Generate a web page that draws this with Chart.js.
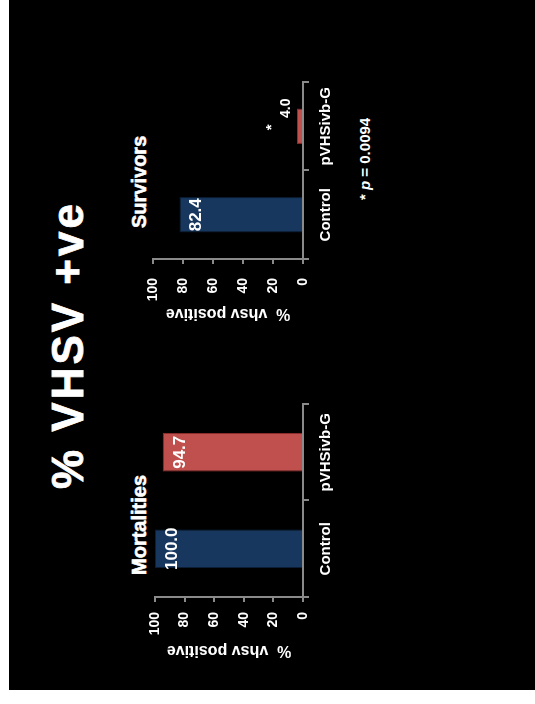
<!DOCTYPE html>
<html lang="en">
<head>
    <meta charset="UTF-8">
    <meta name="viewport" content="width=device-width, initial-scale=1.0">
    <title>% VHSV +ve</title>
    <script src="https://cdn.jsdelivr.net/npm/chart.js"></script>
    <style>
        html, body { margin: 0; padding: 0; background: #fff; }
        body { width: 535px; height: 704px; position: relative; overflow: hidden; font-family: "Liberation Sans", Arial, sans-serif; }
        /* black slide, turned on its side like the original scan */
        #frame { position: absolute; left: 9px; top: 0; width: 526px; height: 690px; background: #000; overflow: hidden; }
        #slide { position: absolute; left: 0; top: 0; width: 690px; height: 526px; transform-origin: 0 0; transform: translateY(690px) rotate(-90deg); color: #fff; }
        .txt { position: absolute; font-weight: bold; white-space: nowrap; line-height: 1; }
        #mainTitle { left: 0; width: 690px; top: 37px; text-align: center; font-size: 44px; letter-spacing: 3px; -webkit-text-stroke: 0.8px #fff; }
        #mortTitle { left: 115px; top: 120px; font-size: 20px; -webkit-text-stroke: 0.6px #fff; }
        #survTitle { left: 462px; top: 120px; font-size: 20px; -webkit-text-stroke: 0.6px #fff; }
        #pNote { left: 490px; top: 348px; font-size: 15px; }
        canvas { position: absolute; }
        #mortChart { left: 20px; top: 100px; }
        #survChart { left: 360px; top: 100px; }
    </style>
</head>
<body>
<div id="frame">
    <div id="slide">
        <div id="mainTitle" class="txt">% VHSV +ve</div>
        <div id="mortTitle" class="txt">Mortalities</div>
        <div id="survTitle" class="txt">Survivors</div>
        <div id="pNote" class="txt">* <i>p</i> = 0.0094</div>
        <canvas id="mortChart" width="300" height="250"></canvas>
        <canvas id="survChart" width="300" height="250"></canvas>
    </div>
</div>

<script>
    // data
    const categories = ['Control', 'pVHSivb-G'];
    const mortalities = [100.0, 94.7];
    const survivors = [82.4, 4.0];
    const survivorMarks = ['', '*'];
    const yMax = 100;
    const yStep = 20;
    const yTitle = '%  vhsv positive';

    const barFill = ['#17375E', '#C0504D'];
    const barEdge = ['#0c1f36', '#8e2f2c'];
    const axisGrey = '#8a8a8a';
    const fontFamily = '"Liberation Sans", Arial, sans-serif';

    Chart.defaults.font.family = fontFamily;
    Chart.defaults.color = '#fff';

    // value labels on the bars (inside when there is room, above otherwise)
    const barLabels = {
        id: 'barLabels',
        afterDatasetsDraw(chart, args, opts) {
            const ctx = chart.ctx;
            const values = chart.data.datasets[0].data;
            const marks = opts.marks || [];
            chart.getDatasetMeta(0).data.forEach((bar, i) => {
                const txt = values[i].toFixed(1);
                ctx.save();
                ctx.fillStyle = '#fff';
                ctx.textAlign = 'center';
                ctx.textBaseline = 'alphabetic';
                if (bar.base - bar.y > 30) {
                    ctx.font = 'bold 17px ' + fontFamily;
                    ctx.fillText(txt, bar.x, bar.y + 22);
                } else {
                    ctx.font = 'bold 14px ' + fontFamily;
                    ctx.fillText(txt, bar.x + 18, bar.y - 7);
                }
                if (marks[i]) {
                    ctx.font = 'bold 15px ' + fontFamily;
                    ctx.fillText(marks[i], bar.x - 1, bar.y - 21);
                }
                ctx.restore();
            });
        }
    };

    function makeChart(id, values, lay) {
        return new Chart(document.getElementById(id), {
            type: 'bar',
            data: {
                labels: categories,
                datasets: [{
                    data: values,
                    backgroundColor: barFill,
                    borderColor: barEdge,
                    borderWidth: 1,
                    barPercentage: 0.4,
                    categoryPercentage: 1.0
                }]
            },
            options: {
                responsive: false,
                animation: false,
                layout: { padding: { left: 0, top: lay.top, right: lay.right, bottom: 0 } },
                plugins: {
                    legend: { display: false },
                    tooltip: { enabled: false },
                    barLabels: { marks: lay.marks }
                },
                scales: {
                    x: {
                        afterFit: (s) => { s.height = 56; },
                        grid: { drawOnChartArea: false, color: axisGrey, lineWidth: 2, tickLength: 6 },
                        border: { color: axisGrey, width: 2 },
                        ticks: { color: '#fff', padding: 8, font: { size: 15, weight: 'bold' } }
                    },
                    y: {
                        min: 0,
                        max: yMax,
                        afterFit: (s) => { s.width = lay.axisWidth; },
                        grid: { drawOnChartArea: false, color: axisGrey, lineWidth: 2, tickLength: 5 },
                        border: { color: axisGrey, width: 2 },
                        ticks: { stepSize: yStep, color: '#fff', padding: lay.tickPad, font: { size: 14, weight: 'bold' } },
                        title: {
                            display: true,
                            text: yTitle,
                            color: '#fff',
                            padding: { top: lay.titlePad, bottom: 0 },
                            font: { size: 16, weight: 'bold' }
                        }
                    }
                }
            },
            plugins: [barLabels]
        });
    }

    makeChart('mortChart', mortalities, { top: 46, right: 34, axisWidth: 73, tickPad: 10, titlePad: 10, marks: [] });
    makeChart('survChart', survivors, { top: 44, right: 52, axisWidth: 71, tickPad: 14, titlePad: 7, marks: survivorMarks });
</script>
</body>
</html>
